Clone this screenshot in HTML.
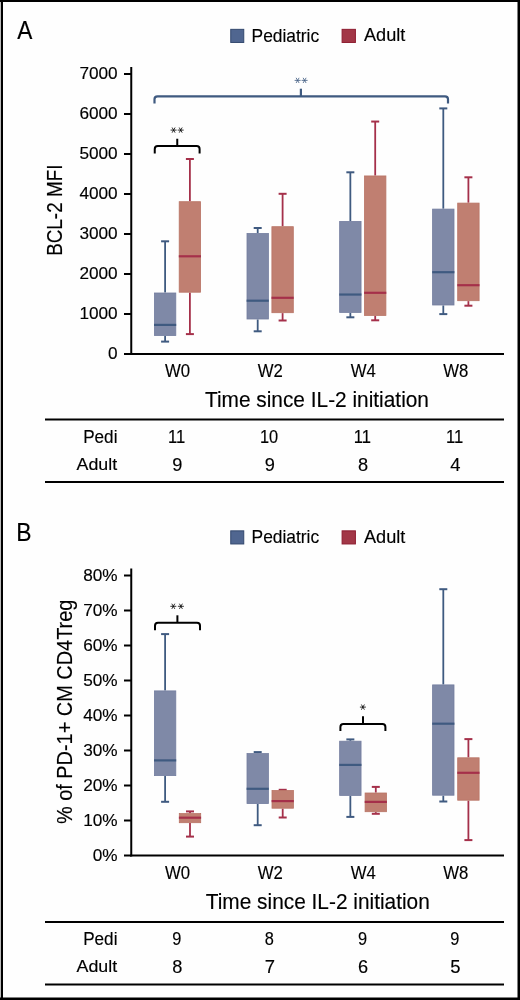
<!DOCTYPE html><html><head><meta charset="utf-8"><style>html,body{margin:0;padding:0;background:#fff;}svg{display:block;will-change:transform;}text{font-family:"Liberation Sans",sans-serif;fill:#000;stroke:#000;stroke-width:0.15px;}</style></head><body><svg width="520" height="1000" viewBox="0 0 520 1000"><rect x="0" y="0" width="520" height="1000" fill="#fefefe"/><text transform="translate(17.35,39.00) scale(0.8613,1)" font-size="26.31">A</text><rect x="230.75" y="29.35" width="13" height="13.1" fill="#506690" stroke="#33486e" stroke-width="1"/><text transform="translate(251.58,41.50) scale(0.9675,1)" font-size="17.96">Pediatric</text><rect x="342.1" y="29.35" width="13.3" height="13.1" fill="#a23747" stroke="#8d1c30" stroke-width="1"/><text transform="translate(363.96,41.20) scale(1.0147,1)" font-size="17.89">Adult</text><text transform="translate(165.03,376.90) scale(0.9500,1)" font-size="17.62">W0</text><text transform="translate(257.63,376.90) scale(0.9500,1)" font-size="17.62">W2</text><text transform="translate(350.66,376.90) scale(0.9500,1)" font-size="17.62">W4</text><text transform="translate(443.18,376.90) scale(0.9500,1)" font-size="17.62">W8</text><text transform="translate(204.94,407.10) scale(0.9633,1)" font-size="21.66">Time since IL-2 initiation</text><line x1="45" y1="419.60" x2="504" y2="419.60" stroke="#000" stroke-width="2"/><line x1="45" y1="482.10" x2="504" y2="482.10" stroke="#000" stroke-width="2"/><text transform="translate(83.20,442.80) scale(0.9533,1)" font-size="17.96">Pedi</text><text transform="translate(76.56,469.60) scale(1.0947,1)" font-size="16.30">Adult</text><text transform="translate(167.95,443.10) scale(0.9000,1)" font-size="18.46">11</text><text transform="translate(172.26,470.80) scale(1.0000,1)" font-size="18.19">9</text><text transform="translate(259.88,443.10) scale(0.9000,1)" font-size="18.19">10</text><text transform="translate(264.76,470.80) scale(1.0000,1)" font-size="18.19">9</text><text transform="translate(353.65,443.10) scale(0.9000,1)" font-size="18.46">11</text><text transform="translate(357.94,470.80) scale(1.0000,1)" font-size="18.19">8</text><text transform="translate(446.05,443.10) scale(0.9000,1)" font-size="18.46">11</text><text transform="translate(450.34,470.80) scale(1.0000,1)" font-size="18.46">4</text><line x1="131.25" y1="67.00" x2="131.25" y2="355.00" stroke="#000" stroke-width="2"/><line x1="130.25" y1="354.00" x2="504" y2="354.00" stroke="#000" stroke-width="2"/><line x1="124" y1="354.00" x2="131" y2="354.00" stroke="#000" stroke-width="2"/><text transform="translate(108.09,359.20) scale(1.0000,1)" font-size="17.19">0</text><line x1="124" y1="314.00" x2="131" y2="314.00" stroke="#000" stroke-width="2"/><text transform="translate(79.42,319.20) scale(1.0000,1)" font-size="17.19">1000</text><line x1="124" y1="274.00" x2="131" y2="274.00" stroke="#000" stroke-width="2"/><text transform="translate(79.42,279.20) scale(1.0000,1)" font-size="17.19">2000</text><line x1="124" y1="234.00" x2="131" y2="234.00" stroke="#000" stroke-width="2"/><text transform="translate(79.42,239.20) scale(1.0000,1)" font-size="17.19">3000</text><line x1="124" y1="194.00" x2="131" y2="194.00" stroke="#000" stroke-width="2"/><text transform="translate(79.42,199.20) scale(1.0000,1)" font-size="17.19">4000</text><line x1="124" y1="154.00" x2="131" y2="154.00" stroke="#000" stroke-width="2"/><text transform="translate(79.42,159.20) scale(1.0000,1)" font-size="17.19">5000</text><line x1="124" y1="114.00" x2="131" y2="114.00" stroke="#000" stroke-width="2"/><text transform="translate(79.42,119.20) scale(1.0000,1)" font-size="17.19">6000</text><line x1="124" y1="74.00" x2="131" y2="74.00" stroke="#000" stroke-width="2"/><text transform="translate(79.42,79.20) scale(1.0000,1)" font-size="17.19">7000</text><line x1="165.10" y1="241.30" x2="165.10" y2="292.60" stroke="#3f5a80" stroke-width="1.8"/><line x1="165.10" y1="335.90" x2="165.10" y2="341.60" stroke="#3f5a80" stroke-width="1.8"/><line x1="161.10" y1="241.30" x2="169.10" y2="241.30" stroke="#3f5a80" stroke-width="2"/><line x1="161.10" y1="341.60" x2="169.10" y2="341.60" stroke="#3f5a80" stroke-width="2"/><rect x="154.40" y="293.00" width="21.40" height="42.50" fill="#7f89a7" stroke="#737d9f" stroke-width="0.8"/><line x1="154.00" y1="324.90" x2="176.20" y2="324.90" stroke="#3f5a80" stroke-width="2.2"/><line x1="189.90" y1="159.00" x2="189.90" y2="201.30" stroke="#a5304a" stroke-width="1.8"/><line x1="189.90" y1="292.60" x2="189.90" y2="334.10" stroke="#a5304a" stroke-width="1.8"/><line x1="185.90" y1="159.00" x2="193.90" y2="159.00" stroke="#a5304a" stroke-width="2"/><line x1="185.90" y1="334.10" x2="193.90" y2="334.10" stroke="#a5304a" stroke-width="2"/><rect x="179.20" y="201.70" width="21.40" height="90.50" fill="#c07f71" stroke="#b87465" stroke-width="0.8"/><line x1="178.80" y1="256.30" x2="201.00" y2="256.30" stroke="#a5304a" stroke-width="2.2"/><line x1="257.70" y1="228.00" x2="257.70" y2="233.10" stroke="#3f5a80" stroke-width="1.8"/><line x1="257.70" y1="319.40" x2="257.70" y2="331.30" stroke="#3f5a80" stroke-width="1.8"/><line x1="253.70" y1="228.00" x2="261.70" y2="228.00" stroke="#3f5a80" stroke-width="2"/><line x1="253.70" y1="331.30" x2="261.70" y2="331.30" stroke="#3f5a80" stroke-width="2"/><rect x="247.00" y="233.50" width="21.40" height="85.50" fill="#7f89a7" stroke="#737d9f" stroke-width="0.8"/><line x1="246.60" y1="300.70" x2="268.80" y2="300.70" stroke="#3f5a80" stroke-width="2.2"/><line x1="282.60" y1="193.80" x2="282.60" y2="226.30" stroke="#a5304a" stroke-width="1.8"/><line x1="282.60" y1="313.10" x2="282.60" y2="320.50" stroke="#a5304a" stroke-width="1.8"/><line x1="278.60" y1="193.80" x2="286.60" y2="193.80" stroke="#a5304a" stroke-width="2"/><line x1="278.60" y1="320.50" x2="286.60" y2="320.50" stroke="#a5304a" stroke-width="2"/><rect x="271.90" y="226.70" width="21.40" height="86.00" fill="#c07f71" stroke="#b87465" stroke-width="0.8"/><line x1="271.50" y1="297.80" x2="293.70" y2="297.80" stroke="#a5304a" stroke-width="2.2"/><line x1="350.35" y1="172.30" x2="350.35" y2="221.05" stroke="#3f5a80" stroke-width="1.8"/><line x1="350.35" y1="312.80" x2="350.35" y2="317.30" stroke="#3f5a80" stroke-width="1.8"/><line x1="346.35" y1="172.30" x2="354.35" y2="172.30" stroke="#3f5a80" stroke-width="2"/><line x1="346.35" y1="317.30" x2="354.35" y2="317.30" stroke="#3f5a80" stroke-width="2"/><rect x="339.65" y="221.45" width="21.40" height="90.95" fill="#7f89a7" stroke="#737d9f" stroke-width="0.8"/><line x1="339.25" y1="294.55" x2="361.45" y2="294.55" stroke="#3f5a80" stroke-width="2.2"/><line x1="375.20" y1="121.55" x2="375.20" y2="175.55" stroke="#a5304a" stroke-width="1.8"/><line x1="375.20" y1="315.80" x2="375.20" y2="320.30" stroke="#a5304a" stroke-width="1.8"/><line x1="371.20" y1="121.55" x2="379.20" y2="121.55" stroke="#a5304a" stroke-width="2"/><line x1="371.20" y1="320.30" x2="379.20" y2="320.30" stroke="#a5304a" stroke-width="2"/><rect x="364.50" y="175.95" width="21.40" height="139.45" fill="#c07f71" stroke="#b87465" stroke-width="0.8"/><line x1="364.10" y1="292.80" x2="386.30" y2="292.80" stroke="#a5304a" stroke-width="2.2"/><line x1="443.30" y1="108.40" x2="443.30" y2="208.70" stroke="#3f5a80" stroke-width="1.8"/><line x1="443.30" y1="305.40" x2="443.30" y2="314.10" stroke="#3f5a80" stroke-width="1.8"/><line x1="439.30" y1="108.40" x2="447.30" y2="108.40" stroke="#3f5a80" stroke-width="2"/><line x1="439.30" y1="314.10" x2="447.30" y2="314.10" stroke="#3f5a80" stroke-width="2"/><rect x="432.60" y="209.10" width="21.40" height="95.90" fill="#7f89a7" stroke="#737d9f" stroke-width="0.8"/><line x1="432.20" y1="272.20" x2="454.40" y2="272.20" stroke="#3f5a80" stroke-width="2.2"/><line x1="468.40" y1="177.30" x2="468.40" y2="202.70" stroke="#a5304a" stroke-width="1.8"/><line x1="468.40" y1="301.10" x2="468.40" y2="305.70" stroke="#a5304a" stroke-width="1.8"/><line x1="464.40" y1="177.30" x2="472.40" y2="177.30" stroke="#a5304a" stroke-width="2"/><line x1="464.40" y1="305.70" x2="472.40" y2="305.70" stroke="#a5304a" stroke-width="2"/><rect x="457.70" y="203.10" width="21.40" height="97.60" fill="#c07f71" stroke="#b87465" stroke-width="0.8"/><line x1="457.30" y1="285.20" x2="479.50" y2="285.20" stroke="#a5304a" stroke-width="2.2"/><path d="M154.50,103.50 L154.50,99.30 Q154.50,96.30 157.50,96.30 L445.00,96.30 Q448.00,96.30 448.00,99.30 L448.00,103.50" fill="none" stroke="#3f5a80" stroke-width="2.2"/><line x1="300.90" y1="88.70" x2="300.90" y2="96.30" stroke="#3f5a80" stroke-width="2.2"/><path d="M294.60,80.40L300.60,80.40M296.10,77.80L299.10,83.00M299.10,77.80L296.10,83.00" stroke="#3f5a80" stroke-width="0.8" fill="none"/><path d="M301.60,80.40L307.60,80.40M303.10,77.80L306.10,83.00M306.10,77.80L303.10,83.00" stroke="#3f5a80" stroke-width="0.8" fill="none"/><path d="M154.75,153.50 L154.75,149.00 Q154.75,146.00 157.75,146.00 L196.60,146.00 Q199.60,146.00 199.60,149.00 L199.60,153.50" fill="none" stroke="#000" stroke-width="2"/><line x1="177.25" y1="138.75" x2="177.25" y2="146.00" stroke="#000" stroke-width="2"/><path d="M170.60,130.10L176.60,130.10M172.10,127.50L175.10,132.70M175.10,127.50L172.10,132.70" stroke="#000" stroke-width="0.8" fill="none"/><path d="M177.70,130.10L183.70,130.10M179.20,127.50L182.20,132.70M182.20,127.50L179.20,132.70" stroke="#000" stroke-width="0.8" fill="none"/><text transform="translate(61.90,255.85) rotate(-90) scale(0.8360,1)" font-size="22.60">BCL-2 MFI</text><text transform="translate(16.32,540.50) scale(0.8622,1)" font-size="26.60">B</text><rect x="230.75" y="530.85" width="13" height="13.1" fill="#506690" stroke="#33486e" stroke-width="1"/><text transform="translate(251.58,543.00) scale(0.9675,1)" font-size="17.96">Pediatric</text><rect x="342.1" y="530.85" width="13.3" height="13.1" fill="#a23747" stroke="#8d1c30" stroke-width="1"/><text transform="translate(363.96,542.70) scale(1.0147,1)" font-size="17.89">Adult</text><text transform="translate(165.03,878.90) scale(0.9500,1)" font-size="17.62">W0</text><text transform="translate(257.63,878.90) scale(0.9500,1)" font-size="17.62">W2</text><text transform="translate(350.66,878.90) scale(0.9500,1)" font-size="17.62">W4</text><text transform="translate(443.18,878.90) scale(0.9500,1)" font-size="17.62">W8</text><text transform="translate(205.74,908.60) scale(0.9633,1)" font-size="21.66">Time since IL-2 initiation</text><line x1="45" y1="921.90" x2="504" y2="921.90" stroke="#000" stroke-width="2"/><line x1="45" y1="984.40" x2="504" y2="984.40" stroke="#000" stroke-width="2"/><text transform="translate(83.20,945.10) scale(0.9533,1)" font-size="17.96">Pedi</text><text transform="translate(76.56,971.90) scale(1.0947,1)" font-size="16.30">Adult</text><text transform="translate(172.26,945.40) scale(0.9000,1)" font-size="18.19">9</text><text transform="translate(172.24,973.10) scale(1.0000,1)" font-size="18.19">8</text><text transform="translate(264.75,945.40) scale(0.9000,1)" font-size="18.19">8</text><text transform="translate(264.65,973.10) scale(1.0000,1)" font-size="18.46">7</text><text transform="translate(357.96,945.40) scale(0.9000,1)" font-size="18.19">9</text><text transform="translate(357.89,973.10) scale(1.0000,1)" font-size="18.19">6</text><text transform="translate(450.36,945.40) scale(0.9000,1)" font-size="18.19">9</text><text transform="translate(450.29,973.10) scale(1.0000,1)" font-size="18.46">5</text><line x1="131.25" y1="568.50" x2="131.25" y2="856.50" stroke="#000" stroke-width="2"/><line x1="130.25" y1="855.50" x2="504" y2="855.50" stroke="#000" stroke-width="2"/><line x1="124" y1="855.50" x2="131" y2="855.50" stroke="#000" stroke-width="2"/><text transform="translate(92.76,861.10) scale(1.0000,1)" font-size="17.19">0%</text><line x1="124" y1="820.50" x2="131" y2="820.50" stroke="#000" stroke-width="2"/><text transform="translate(83.20,826.10) scale(1.0000,1)" font-size="17.19">10%</text><line x1="124" y1="785.50" x2="131" y2="785.50" stroke="#000" stroke-width="2"/><text transform="translate(83.20,791.10) scale(1.0000,1)" font-size="17.19">20%</text><line x1="124" y1="750.50" x2="131" y2="750.50" stroke="#000" stroke-width="2"/><text transform="translate(83.20,756.10) scale(1.0000,1)" font-size="17.19">30%</text><line x1="124" y1="715.50" x2="131" y2="715.50" stroke="#000" stroke-width="2"/><text transform="translate(83.20,721.10) scale(1.0000,1)" font-size="17.19">40%</text><line x1="124" y1="680.50" x2="131" y2="680.50" stroke="#000" stroke-width="2"/><text transform="translate(83.20,686.10) scale(1.0000,1)" font-size="17.19">50%</text><line x1="124" y1="645.50" x2="131" y2="645.50" stroke="#000" stroke-width="2"/><text transform="translate(83.20,651.10) scale(1.0000,1)" font-size="17.19">60%</text><line x1="124" y1="610.50" x2="131" y2="610.50" stroke="#000" stroke-width="2"/><text transform="translate(83.20,616.10) scale(1.0000,1)" font-size="17.19">70%</text><line x1="124" y1="575.50" x2="131" y2="575.50" stroke="#000" stroke-width="2"/><text transform="translate(83.20,581.10) scale(1.0000,1)" font-size="17.19">80%</text><line x1="165.10" y1="634.10" x2="165.10" y2="690.50" stroke="#3f5a80" stroke-width="1.8"/><line x1="165.10" y1="776.00" x2="165.10" y2="801.80" stroke="#3f5a80" stroke-width="1.8"/><line x1="161.10" y1="634.10" x2="169.10" y2="634.10" stroke="#3f5a80" stroke-width="2"/><line x1="161.10" y1="801.80" x2="169.10" y2="801.80" stroke="#3f5a80" stroke-width="2"/><rect x="154.40" y="690.90" width="21.40" height="84.70" fill="#7f89a7" stroke="#737d9f" stroke-width="0.8"/><line x1="154.00" y1="760.40" x2="176.20" y2="760.40" stroke="#3f5a80" stroke-width="2.2"/><line x1="190.00" y1="811.40" x2="190.00" y2="813.20" stroke="#a5304a" stroke-width="1.8"/><line x1="190.00" y1="823.10" x2="190.00" y2="836.60" stroke="#a5304a" stroke-width="1.8"/><line x1="186.00" y1="811.40" x2="194.00" y2="811.40" stroke="#a5304a" stroke-width="2"/><line x1="186.00" y1="836.60" x2="194.00" y2="836.60" stroke="#a5304a" stroke-width="2"/><rect x="179.30" y="813.60" width="21.40" height="9.10" fill="#c07f71" stroke="#b87465" stroke-width="0.8"/><line x1="178.90" y1="817.70" x2="201.10" y2="817.70" stroke="#a5304a" stroke-width="2.2"/><line x1="257.70" y1="752.10" x2="257.70" y2="753.20" stroke="#3f5a80" stroke-width="1.8"/><line x1="257.70" y1="804.00" x2="257.70" y2="825.20" stroke="#3f5a80" stroke-width="1.8"/><line x1="253.70" y1="752.10" x2="261.70" y2="752.10" stroke="#3f5a80" stroke-width="2"/><line x1="253.70" y1="825.20" x2="261.70" y2="825.20" stroke="#3f5a80" stroke-width="2"/><rect x="247.00" y="753.60" width="21.40" height="50.00" fill="#7f89a7" stroke="#737d9f" stroke-width="0.8"/><line x1="246.60" y1="788.80" x2="268.80" y2="788.80" stroke="#3f5a80" stroke-width="2.2"/><line x1="282.70" y1="789.80" x2="282.70" y2="790.10" stroke="#a5304a" stroke-width="1.8"/><line x1="282.70" y1="808.60" x2="282.70" y2="817.50" stroke="#a5304a" stroke-width="1.8"/><line x1="278.70" y1="789.80" x2="286.70" y2="789.80" stroke="#a5304a" stroke-width="2"/><line x1="278.70" y1="817.50" x2="286.70" y2="817.50" stroke="#a5304a" stroke-width="2"/><rect x="272.00" y="790.50" width="21.40" height="17.70" fill="#c07f71" stroke="#b87465" stroke-width="0.8"/><line x1="271.60" y1="801.10" x2="293.80" y2="801.10" stroke="#a5304a" stroke-width="2.2"/><line x1="350.35" y1="739.40" x2="350.35" y2="740.80" stroke="#3f5a80" stroke-width="1.8"/><line x1="350.35" y1="795.80" x2="350.35" y2="816.90" stroke="#3f5a80" stroke-width="1.8"/><line x1="346.35" y1="739.40" x2="354.35" y2="739.40" stroke="#3f5a80" stroke-width="2"/><line x1="346.35" y1="816.90" x2="354.35" y2="816.90" stroke="#3f5a80" stroke-width="2"/><rect x="339.65" y="741.20" width="21.40" height="54.20" fill="#7f89a7" stroke="#737d9f" stroke-width="0.8"/><line x1="339.25" y1="764.90" x2="361.45" y2="764.90" stroke="#3f5a80" stroke-width="2.2"/><line x1="375.80" y1="786.90" x2="375.80" y2="792.60" stroke="#a5304a" stroke-width="1.8"/><line x1="375.80" y1="812.10" x2="375.80" y2="813.80" stroke="#a5304a" stroke-width="1.8"/><line x1="371.80" y1="786.90" x2="379.80" y2="786.90" stroke="#a5304a" stroke-width="2"/><line x1="371.80" y1="813.80" x2="379.80" y2="813.80" stroke="#a5304a" stroke-width="2"/><rect x="365.10" y="793.00" width="21.40" height="18.70" fill="#c07f71" stroke="#b87465" stroke-width="0.8"/><line x1="364.70" y1="801.90" x2="386.90" y2="801.90" stroke="#a5304a" stroke-width="2.2"/><line x1="443.30" y1="589.20" x2="443.30" y2="684.50" stroke="#3f5a80" stroke-width="1.8"/><line x1="443.30" y1="795.60" x2="443.30" y2="801.50" stroke="#3f5a80" stroke-width="1.8"/><line x1="439.30" y1="589.20" x2="447.30" y2="589.20" stroke="#3f5a80" stroke-width="2"/><line x1="439.30" y1="801.50" x2="447.30" y2="801.50" stroke="#3f5a80" stroke-width="2"/><rect x="432.60" y="684.90" width="21.40" height="110.30" fill="#7f89a7" stroke="#737d9f" stroke-width="0.8"/><line x1="432.20" y1="723.70" x2="454.40" y2="723.70" stroke="#3f5a80" stroke-width="2.2"/><line x1="468.40" y1="739.10" x2="468.40" y2="757.40" stroke="#a5304a" stroke-width="1.8"/><line x1="468.40" y1="800.60" x2="468.40" y2="840.10" stroke="#a5304a" stroke-width="1.8"/><line x1="464.40" y1="739.10" x2="472.40" y2="739.10" stroke="#a5304a" stroke-width="2"/><line x1="464.40" y1="840.10" x2="472.40" y2="840.10" stroke="#a5304a" stroke-width="2"/><rect x="457.70" y="757.80" width="21.40" height="42.40" fill="#c07f71" stroke="#b87465" stroke-width="0.8"/><line x1="457.30" y1="772.80" x2="479.50" y2="772.80" stroke="#a5304a" stroke-width="2.2"/><path d="M155.00,630.30 L155.00,625.70 Q155.00,622.70 158.00,622.70 L197.00,622.70 Q200.00,622.70 200.00,625.70 L200.00,630.30" fill="none" stroke="#000" stroke-width="2"/><line x1="177.40" y1="615.30" x2="177.40" y2="622.70" stroke="#000" stroke-width="2"/><path d="M170.30,606.30L176.30,606.30M171.80,603.70L174.80,608.90M174.80,603.70L171.80,608.90" stroke="#000" stroke-width="0.8" fill="none"/><path d="M177.90,606.30L183.90,606.30M179.40,603.70L182.40,608.90M182.40,603.70L179.40,608.90" stroke="#000" stroke-width="0.8" fill="none"/><path d="M340.40,731.10 L340.40,726.90 Q340.40,723.90 343.40,723.90 L382.40,723.90 Q385.40,723.90 385.40,726.90 L385.40,731.10" fill="none" stroke="#000" stroke-width="2"/><line x1="363.00" y1="716.30" x2="363.00" y2="723.90" stroke="#000" stroke-width="2"/><path d="M359.90,707.10L365.90,707.10M361.40,704.50L364.40,709.70M364.40,704.50L361.40,709.70" stroke="#000" stroke-width="0.8" fill="none"/><text transform="translate(71.80,824.12) rotate(-90) scale(0.8958,1)" font-size="22.24">% of PD-1+ CM CD4Treg</text><rect x="0" y="0" width="1" height="1000" fill="#bbb"/><rect x="1" y="0" width="2" height="1000" fill="#000"/><rect x="0" y="0" width="520" height="2" fill="#000"/><rect x="517.5" y="0" width="2.5" height="1000" fill="#000"/><rect x="0" y="997.5" width="520" height="2.5" fill="#000"/></svg></body></html>
